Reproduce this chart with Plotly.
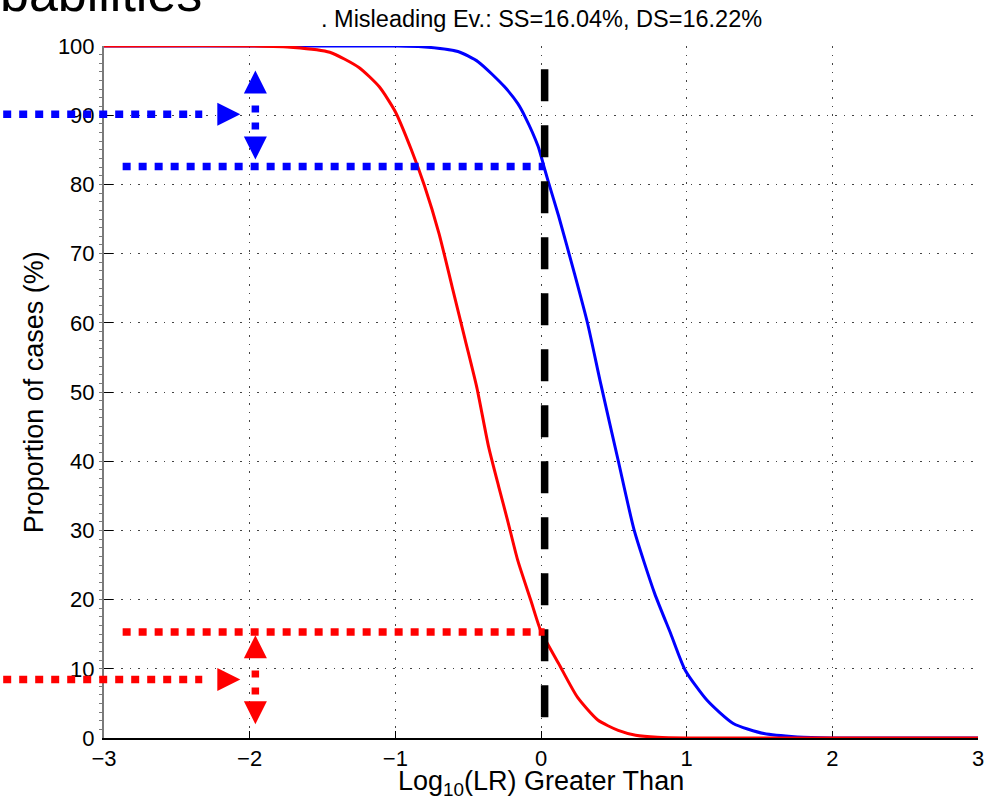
import plotly.graph_objects as go

# Tippett curves: proportion of cases whose log10(LR) exceeds a given value
lr_red = [-3.0, -2.0, -1.7, -1.45, -1.25, -1.11, -1.0, -0.89, -0.80, -0.70, -0.61,
          -0.52, -0.44, -0.36, -0.29, -0.23, -0.16, -0.07, 0.0, 0.12, 0.25, 0.39,
          0.53, 0.65, 0.8, 1.0, 3.0]
pct_red = [100, 100, 99.8, 99.1, 96.9, 94.1, 90.5, 85.0, 79.8, 72.9, 65.2,
           57.5, 50.6, 42.1, 36.3, 31.5, 25.7, 19.9, 15.4, 10.8, 5.9, 2.6,
           1.1, 0.4, 0.1, 0, 0]

lr_blue = [-3.0, -1.0, -0.82, -0.57, -0.43, -0.25, -0.16, -0.11, -0.02, 0.02, 0.05,
           0.12, 0.23, 0.32, 0.41, 0.53, 0.64, 0.78, 0.89, 0.99, 1.14, 1.32, 1.53,
           1.76, 2.0, 3.0]
pct_blue = [100, 100, 99.9, 99.2, 97.7, 94.1, 91.7, 89.8, 85.5, 82.6, 80.4,
            75.5, 67.1, 59.9, 51.2, 40.1, 30.0, 20.9, 15.1, 9.8, 5.45, 2.1, 0.64,
            0.15, 0, 0]

# threshold at log10(LR) ~ 0 and the curve levels read there
threshold = 0.025
red_level = 15.3
blue_level = 82.6

x_range = [-3, 3]
y_range = [0, 100]
x_ticks = [-3, -2, -1, 0, 1, 2, 3]
y_ticks = [0, 10, 20, 30, 40, 50, 60, 70, 80, 90, 100]

subtitle = ". Misleading Ev.: SS=16.04%, DS=16.22%"
title_tail = "babilities"

RED = "#ff0000"
BLUE = "#0000ff"
FONT = "Liberation Sans, Arial, Helvetica, sans-serif"


def to_paper_x(x):
    return (x - x_range[0]) / (x_range[1] - x_range[0])


fig = go.Figure()

fig.add_trace(go.Scatter(x=lr_blue, y=pct_blue, mode="lines",
                         line=dict(color=BLUE, width=3, shape="spline", smoothing=0.6)))
fig.add_trace(go.Scatter(x=lr_red, y=pct_red, mode="lines",
                         line=dict(color=RED, width=3, shape="spline", smoothing=0.6)))

# dashed threshold line
fig.add_trace(go.Scatter(x=[threshold, threshold], y=[96.63, 3.0], mode="lines",
                         line=dict(color="black", width=7.5, dash="32px,24px")))

# dotted level lines running from the left edge to the threshold
for level, col in [(blue_level, BLUE), (red_level, RED)]:
    fig.add_trace(go.Scatter(x=[-2.872, threshold], y=[level, level], mode="lines",
                             line=dict(color=col, width=7.5, dash="8px,8px")))

shapes = []


def h_arrow(y, col):
    # shaft starts left of the axis, so it is drawn as a paper-x shape
    shapes.append(dict(type="line", xref="paper", yref="y",
                       x0=to_paper_x(-3.692), x1=to_paper_x(-2.3255), y0=y, y1=y,
                       line=dict(color=col, width=7.5, dash="8px,8px"),
                       layer="above"))
    fig.add_trace(go.Scatter(x=[-2.064], y=[y], mode="markers",
                             marker=dict(symbol="arrow-right", size=23, color=col,
                                         line=dict(width=0))))


def v_arrow(x, top, bottom, seg_top, seg_bottom, col):
    fig.add_trace(go.Scatter(x=[x, x], y=[seg_top, seg_bottom], mode="lines",
                             line=dict(color=col, width=7.5, dash="7px,10px")))
    fig.add_trace(go.Scatter(x=[x], y=[top], mode="markers",
                             marker=dict(symbol="arrow-up", size=23, color=col,
                                         line=dict(width=0))))
    fig.add_trace(go.Scatter(x=[x], y=[bottom], mode="markers",
                             marker=dict(symbol="arrow-down", size=23, color=col,
                                         line=dict(width=0))))


h_arrow(90.13, BLUE)
h_arrow(8.44, RED)
v_arrow(-1.961, 96.46, 83.6, 91.41, 87.94, BLUE)
v_arrow(-1.961, 14.85, 1.98, 9.76, 6.3, RED)

grid = dict(showgrid=True, gridcolor="#444444", gridwidth=1, griddash="1.5px,7px")

fig.update_xaxes(range=x_range, tickvals=x_ticks, ticks="inside", ticklen=7,
                 tickcolor="black", showline=True, linecolor="black", linewidth=1.5,
                 zeroline=False, tickfont=dict(size=22, color="black", family=FONT),
                 layer="below traces", ticklabelstandoff=0, **grid)
fig.update_yaxes(range=y_range, tickvals=y_ticks, ticks="inside", ticklen=9,
                 tickcolor="black", showline=True, linecolor="#7a7a7a", linewidth=2,
                 zeroline=False, tickfont=dict(size=22, color="black", family=FONT),
                 layer="below traces", ticklabelstandoff=3,
                 minor=dict(ticks="outside", ticklen=3, tickcolor="#7a7a7a",
                            dtick=1.25, showgrid=False),
                 **grid)

fig.update_layout(
    width=996, height=802,
    margin=dict(l=104, r=14, t=46, b=64),
    paper_bgcolor="white", plot_bgcolor="white",
    showlegend=False, hovermode=False,
    font=dict(family=FONT, color="black"),
    shapes=shapes,
    annotations=[
        dict(text=title_tail, xref="paper", yref="paper", x=(204 - 104) / 878,
             y=1 + 22 / 691.7, xanchor="right", yanchor="bottom", showarrow=False,
             font=dict(size=52, family=FONT, color="black")),
        dict(text=subtitle, xref="paper", yref="paper", x=0.5,
             y=1 + 12 / 691.7, xanchor="center", yanchor="bottom", showarrow=False,
             font=dict(size=23.5, family=FONT, color="black")),
        dict(text="Log<sub>10</sub>(LR) Greater Than", xref="paper", yref="paper",
             x=0.5, y=-26 / 691.7, xanchor="center", yanchor="top", showarrow=False,
             font=dict(size=27, family=FONT, color="black")),
        dict(text="Proportion of cases (%)", xref="paper", yref="paper",
             x=(34 - 104) / 878, y=0.5, xanchor="center", yanchor="middle",
             textangle=-90, showarrow=False,
             font=dict(size=27, family=FONT, color="black")),
    ],
)

fig.write_html("out.html", config=dict(displayModeBar=False))
